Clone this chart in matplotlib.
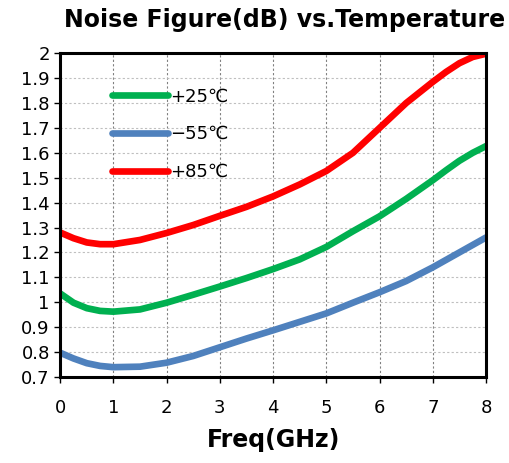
import numpy as np
import matplotlib.pyplot as plt

freq = [0, 0.25, 0.5, 0.75, 1, 1.5, 2, 2.5, 3, 3.5, 4, 4.5, 5, 5.5, 6, 6.5, 7,
        7.25, 7.5, 7.75, 8]
nf_25 = [1.035, 0.998, 0.976, 0.965, 0.962, 0.971, 0.998, 1.03, 1.063, 1.097,
         1.133, 1.172, 1.222, 1.285, 1.345, 1.415, 1.49, 1.53, 1.568, 1.60, 1.627]
nf_m55 = [0.797, 0.774, 0.755, 0.744, 0.739, 0.741, 0.757, 0.784, 0.819, 0.854,
          0.887, 0.921, 0.955, 0.998, 1.04, 1.085, 1.14, 1.17, 1.20, 1.23, 1.26]
nf_85 = [1.28, 1.257, 1.24, 1.233, 1.233, 1.25, 1.278, 1.31, 1.347, 1.383,
         1.425, 1.473, 1.527, 1.60, 1.70, 1.80, 1.885, 1.925, 1.96, 1.985, 1.998]

fig, ax = plt.subplots(figsize=(5.10, 4.63), dpi=100)
fig.subplots_adjust(left=0.118, right=0.953, top=0.885, bottom=0.186)

ax.plot(freq, nf_25, color='#00b050', linewidth=4.8, solid_capstyle='round', label='+25℃')
ax.plot(freq, nf_m55, color='#4f81bd', linewidth=4.8, solid_capstyle='round', label='−55℃')
ax.plot(freq, nf_85, color='#ff0000', linewidth=4.8, solid_capstyle='round', label='+85℃')

ax.set_xlim(0, 8)
ax.set_ylim(0.7, 2.0)
ax.set_xticks(np.arange(0, 9, 1))
ax.set_yticks(np.arange(0.7, 2.01, 0.1))
ax.set_yticklabels(['0.7', '0.8', '0.9', '1', '1.1', '1.2', '1.3', '1.4', '1.5',
                    '1.6', '1.7', '1.8', '1.9', '2'])
ax.tick_params(labelsize=13, direction='out', length=4, width=1)
ax.tick_params(axis='x', pad=12)
ax.grid(axis='x', color='#808080', linestyle=(0, (2, 2)), linewidth=0.8)
ax.grid(axis='y', color='#bfbfbf', linestyle=(0, (2, 2)), linewidth=0.8)
for s in ax.spines.values():
    s.set_linewidth(2.2)

ax.set_title('Noise Figure(dB) vs.Temperature', fontsize=17, fontweight='bold',
             x=0.528, pad=19)
ax.set_xlabel('Freq(GHz)', fontsize=17, fontweight='bold', labelpad=8)

ax.legend(loc='upper left', bbox_to_anchor=(0.083, 0.945), frameon=False, fontsize=13,
          handlelength=3.1, handletextpad=0.15, labelspacing=1.1)

plt.savefig('out.png')
